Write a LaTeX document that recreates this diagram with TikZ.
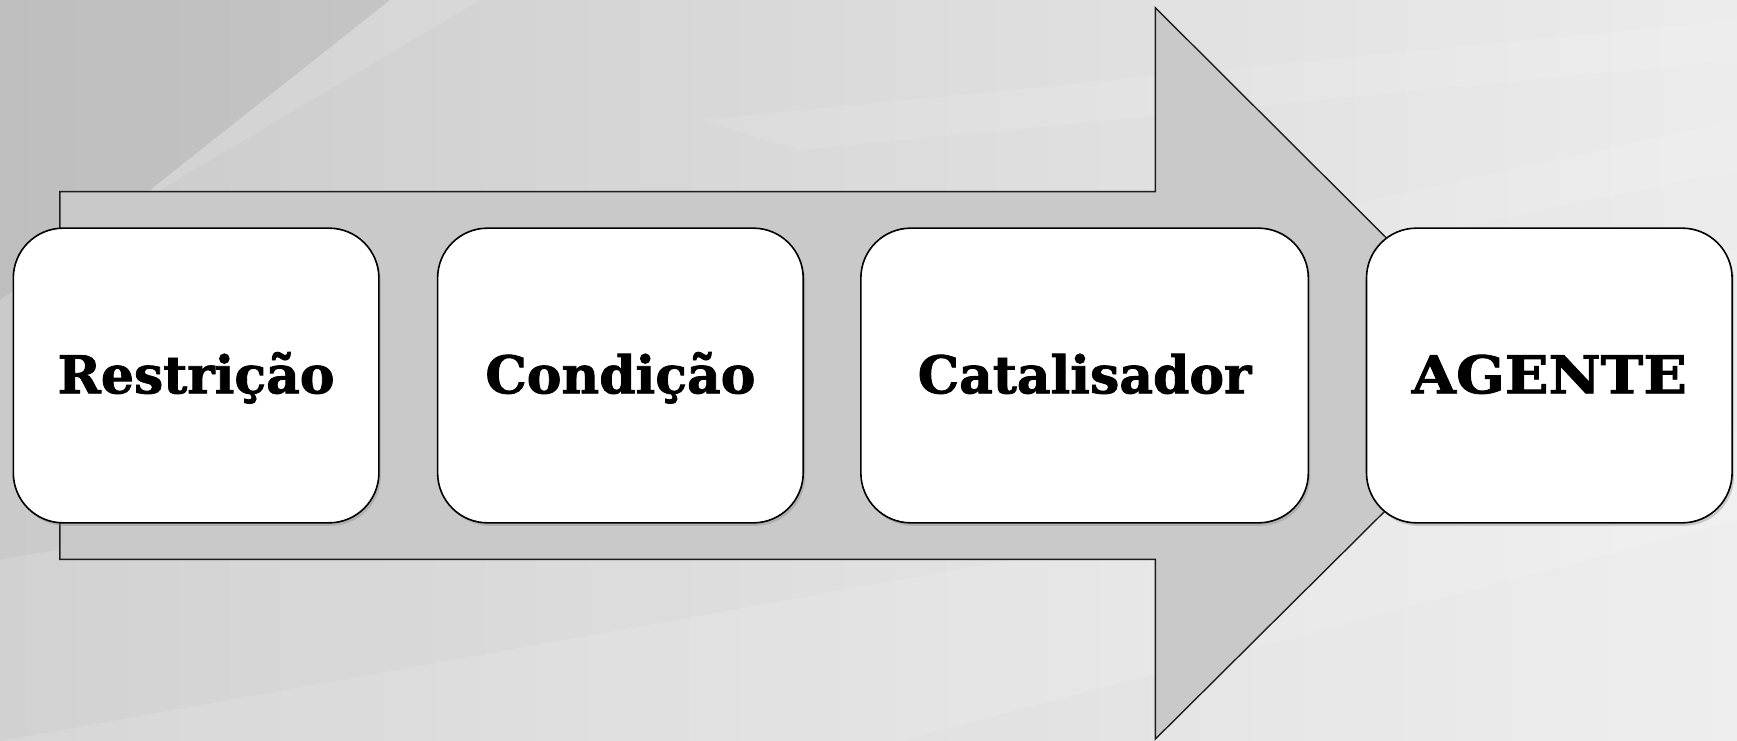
\documentclass[tikz,border=0pt]{standalone}
\usepackage{fontspec}
\newfontfamily\slabfont[BoldFeatures={FakeBold=1.6}]{DejaVu Serif}
\usetikzlibrary{shadows}
\definecolor{arrowfill}{RGB}{201,201,201}
\definecolor{bgA}{RGB}{202,202,202}
\definecolor{bgB}{RGB}{226,226,226}
\definecolor{bgC}{RGB}{236,236,236}
\tikzset{
  stagebox/.style={draw=black, line width=1.6pt, fill=white, rounded corners=50pt,
    minimum height=294.7pt, inner sep=0pt,
    drop shadow={opacity=0.35, shadow xshift=2pt, shadow yshift=-3pt}},
  stagetext/.style={font=\slabfont\bfseries\fontsize{52}{58}\selectfont, anchor=base, inner sep=0pt},
  bigarrow/.style={draw={rgb,255:red,30;green,30;blue,30}, line width=1.4pt, fill=arrowfill, line join=miter},
}
\begin{document}
\begin{tikzpicture}[x=1pt,y=-1pt]
\useasboundingbox (0,0) rectangle (1737,741);
% background
\shade[left color=bgA, right color=bgC] (0,0) rectangle (1737,741);
\fill[white, opacity=0.15] (0,741) -- (0,560) -- (1737,250) -- (1737,741) -- cycle;
\fill[white, opacity=0.12] (0,741) -- (900,741) -- (1737,520) -- (1737,430) -- cycle;
\fill[black, opacity=0.06] (0,0) -- (390,0) -- (150,190) -- (0,300) -- cycle;
\fill[white, opacity=0.12] (390,0) -- (480,0) -- (160,190) -- (150,190) -- cycle;
\fill[white, opacity=0.10] (700,120) -- (1737,20) -- (1737,60) -- (800,150) -- cycle;
\fill[white, opacity=0.10] (1100,260) -- (1737,120) -- (1737,170) -- (1200,280) -- cycle;
% arrow
\coordinate (sTL) at (59.8,191.6);
\coordinate (sTR) at (1155.4,191.6);
\coordinate (hT) at (1155.4,7.8);
\coordinate (tip) at (1523,374);
\coordinate (hB) at (1155.4,739);
\coordinate (sBR) at (1155.4,559.4);
\coordinate (sBL) at (59.8,559.4);
\draw[bigarrow] (sTL) -- (sTR) -- (hT) -- (tip) -- (hB) -- (sBR) -- (sBL) -- cycle;
% boxes
\node[stagebox, minimum width=365.6pt] (b1) at (196.1,375.5) {};
\node[stagebox, minimum width=365.6pt] (b2) at (620.4,375.5) {};
\node[stagebox, minimum width=447.5pt] (b3) at (1084.6,375.5) {};
\node[stagebox, minimum width=365.6pt] (b4) at (1549.3,375.5) {};
\node[stagetext] (t1) at (196.1,393.3) {Restrição};
\node[stagetext] (t2) at (620.4,393.3) {Condição};
\node[stagetext] (t3) at (1084.6,393.3) {Catalisador};
\node[stagetext, xscale=1.1] (t4) at (1549.3,393.3) {AGENTE};
\end{tikzpicture}
\end{document}
